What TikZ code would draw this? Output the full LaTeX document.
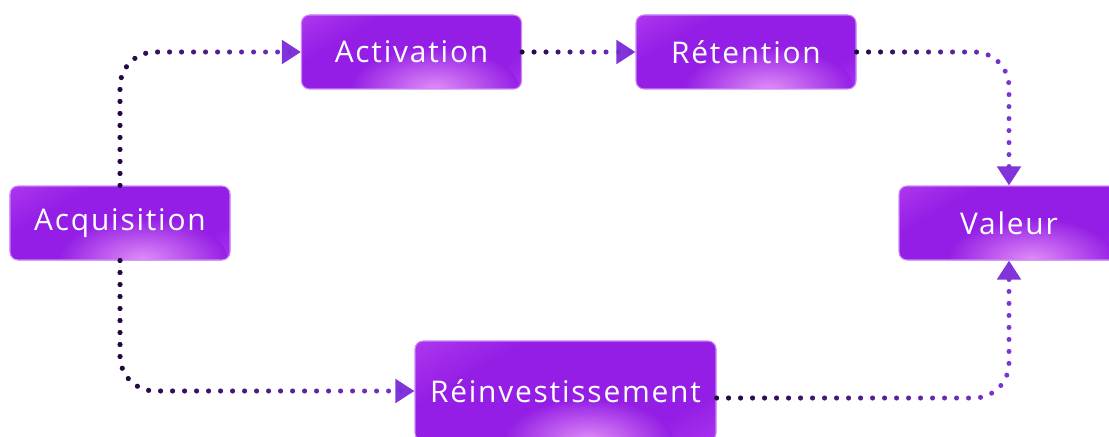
\documentclass[tikz,border=0pt]{standalone}
\usepackage{fontspec}
\setmainfont{Open Sans}[LetterSpace=6]
\usetikzlibrary{arrows.meta,fadings}

\definecolor{boxBase}{RGB}{148,30,229}
\definecolor{boxLight}{RGB}{198,78,247}
\definecolor{boxGlow}{RGB}{234,154,250}
\definecolor{boxEdge}{RGB}{204,136,246}
\definecolor{dotDark}{RGB}{30,10,55}
\definecolor{dotPurple}{RGB}{128,52,218}

\pgfdeclarehorizontalshading{stageshade}{100bp}{color(0bp)=(boxLight); color(32bp)=(boxBase);
  color(72bp)=(boxBase); color(100bp)=(boxLight)}

\tikzset{
  stage/.style={rounded corners=0.16cm, minimum width=4.4cm, minimum height=1.48cm,
    fill=boxBase, draw=boxEdge, line width=0.6pt, text=white,
    font=\fontsize{17}{20}\selectfont,
    path picture={
      \shade[shading=stageshade, shading angle=-60]
        (path picture bounding box.north west) rectangle (path picture bounding box.south east);
      \shade[inner color=boxGlow, outer color=boxBase, opacity=0.9]
        ([xshift=0.45cm]path picture bounding box.south) ellipse (1.7cm and 0.85cm);
    }},
  flow/.style={draw=dotPurple, line width=0.1cm, line cap=round,
    dash pattern=on 0pt off 0.24cm, rounded corners=0.7cm,
    -{Triangle[length=0.38cm, width=0.46cm]},
    postaction={draw=dotDark, path fading=east, -}}
}

\begin{document}
\begin{tikzpicture}
	\useasboundingbox (0,0) rectangle (22.18,-8.72);
	\clip (0,0) rectangle (22.18,-8.72);

	% Stages
	\node[stage] (acq) at (2.40,-4.46) {Acquisition};
	\node[stage] (act) at (8.23,-1.04) {Activation};
	\node[stage] (ret) at (14.92,-1.04) {Rétention};
	\node[stage] (val) at (20.18,-4.46) {Valeur};
	\node[stage, minimum width=6.02cm, minimum height=2cm] (rei) at (11.31,-7.82) {Réinvestissement};

	% Upper loop
	\draw[flow] (acq.north) |- (act.west);
	\draw[flow] (act.east) -- (ret.west);
	\draw[flow] (ret.east) -| (val.north);

	% Lower loop
	\draw[flow] (acq.south) |- (rei.west);
	\draw[flow] ([yshift=-0.14cm]rei.east) -| (val.south);
\end{tikzpicture}
\end{document}
